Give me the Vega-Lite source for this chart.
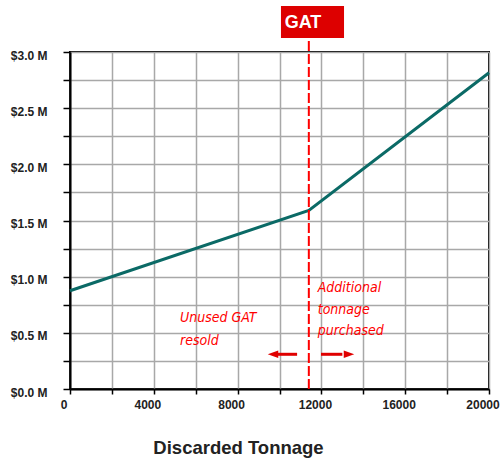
{
  "$schema": "https://vega.github.io/schema/vega-lite/v6.json",
  "width": 419,
  "height": 337,
  "autosize": "none",
  "padding": {"left": 70, "top": 52, "right": 11, "bottom": 69},
  "config": {
    "view": {"stroke": "#000000", "strokeWidth": 2},
    "font": "Liberation Sans"
  },
  "datasets": {
    "cost": [
      {"x": 0, "y": 0.875},
      {"x": 11400, "y": 1.59},
      {"x": 20000, "y": 2.815}
    ],
    "gat": [{"x": 11400, "y": 0, "y2": 3.125}],
    "gatbox": [{"x": 10070, "x2": 13080, "y": 3.125, "y2": 3.41, "label": "GAT", "xc": 11120, "yc": 3.258}],
    "arrows": [
      {"x": 10840, "x2": 9900, "y": 0.309, "tip": 9690, "dir": "left"},
      {"x": 11981, "x2": 13000, "y": 0.309, "tip": 13317, "dir": "right"}
    ],
    "notes": [
      {"x": 5250, "y": 0.632, "label": "Unused GAT"},
      {"x": 5250, "y": 0.427, "label": "resold"},
      {"x": 11823, "y": 0.899, "label": "Additional"},
      {"x": 11823, "y": 0.703, "label": "tonnage"},
      {"x": 11823, "y": 0.516, "label": "purchased"}
    ]
  },
  "encoding": {
    "x": {
      "field": "x",
      "type": "quantitative",
      "scale": {"domain": [0, 20000], "nice": false, "zero": false},
      "axis": {
        "values": [0, 2000, 4000, 6000, 8000, 10000, 12000, 14000, 16000, 18000, 20000],
        "labelExpr": "datum.value % 4000 === 0 ? format(datum.value, 'd') : ''",
        "grid": true,
        "gridColor": "#a8a8a8",
        "gridWidth": 1.5,
        "domainColor": "#000000",
        "domainWidth": 2,
        "tickColor": "#000000",
        "tickWidth": 1.5,
        "tickSize": 5,
        "labelFont": "Liberation Sans",
        "labelFontWeight": "bold",
        "labelFontSize": 12,
        "labelColor": "#222222",
        "labelPadding": 5,
        "labelOffset": -6.5,
        "labelFlush": false,
        "labelOverlap": false,
        "title": "Discarded Tonnage",
        "titleFont": "Liberation Sans",
        "titleFontSize": 18.5,
        "titleFontWeight": "bold",
        "titleColor": "#222222",
        "titleX": 168,
        "titleY": 64,
        "titleBaseline": "alphabetic"
      }
    },
    "y": {
      "field": "y",
      "type": "quantitative",
      "scale": {"domain": [0, 3], "nice": false, "zero": false},
      "axis": {
        "values": [0, 0.25, 0.5, 0.75, 1, 1.25, 1.5, 1.75, 2, 2.25, 2.5, 2.75, 3],
        "labelExpr": "datum.value % 0.5 === 0 ? '$' + format(datum.value, '.1f') + ' M' : ''",
        "grid": true,
        "gridColor": "#a8a8a8",
        "gridWidth": 1.5,
        "domainColor": "#000000",
        "domainWidth": 2,
        "tickColor": "#000000",
        "tickWidth": 1.5,
        "tickSize": 7,
        "labelFont": "Liberation Sans",
        "labelFontWeight": "bold",
        "labelFontSize": 12,
        "labelColor": "#222222",
        "labelPadding": 16,
        "labelOffset": 3,
        "labelOverlap": false,
        "title": null
      }
    }
  },
  "layer": [
    {
      "data": {"name": "cost"},
      "mark": {"type": "line", "color": "#0b6a66", "strokeWidth": 3}
    },
    {
      "data": {"name": "gat"},
      "mark": {"type": "rule", "color": "#ff0000", "strokeWidth": 2, "strokeDash": [10, 3]},
      "encoding": {"y2": {"field": "y2"}}
    },
    {
      "data": {"name": "gatbox"},
      "mark": {"type": "rect", "color": "#dd0000"},
      "encoding": {"x2": {"field": "x2"}, "y2": {"field": "y2"}}
    },
    {
      "data": {"name": "gatbox"},
      "mark": {"type": "text", "color": "#ffffff", "font": "Liberation Sans", "fontSize": 18, "fontWeight": "bold", "align": "center", "baseline": "middle"},
      "encoding": {
        "x": {"field": "xc", "type": "quantitative"},
        "y": {"field": "yc", "type": "quantitative"},
        "text": {"field": "label"}
      }
    },
    {
      "data": {"name": "arrows"},
      "mark": {"type": "rule", "color": "#e00000", "strokeWidth": 3},
      "encoding": {"x2": {"field": "x2"}}
    },
    {
      "data": {"name": "arrows"},
      "mark": {"type": "point", "filled": true, "color": "#e00000", "size": 110, "opacity": 1},
      "encoding": {
        "x": {"field": "tip", "type": "quantitative"},
        "shape": {
          "field": "dir",
          "type": "nominal",
          "scale": {"domain": ["left", "right"], "range": ["M1,-0.7L-1,0L1,0.7Z", "M-1,-0.7L1,0L-1,0.7Z"]},
          "legend": null
        }
      }
    },
    {
      "data": {"name": "notes"},
      "mark": {"type": "text", "color": "#ff0000", "font": "'DejaVu Sans Condensed', 'Liberation Sans', sans-serif", "fontSize": 14, "fontStyle": "italic", "align": "left", "baseline": "middle"},
      "encoding": {"text": {"field": "label"}}
    }
  ]
}
